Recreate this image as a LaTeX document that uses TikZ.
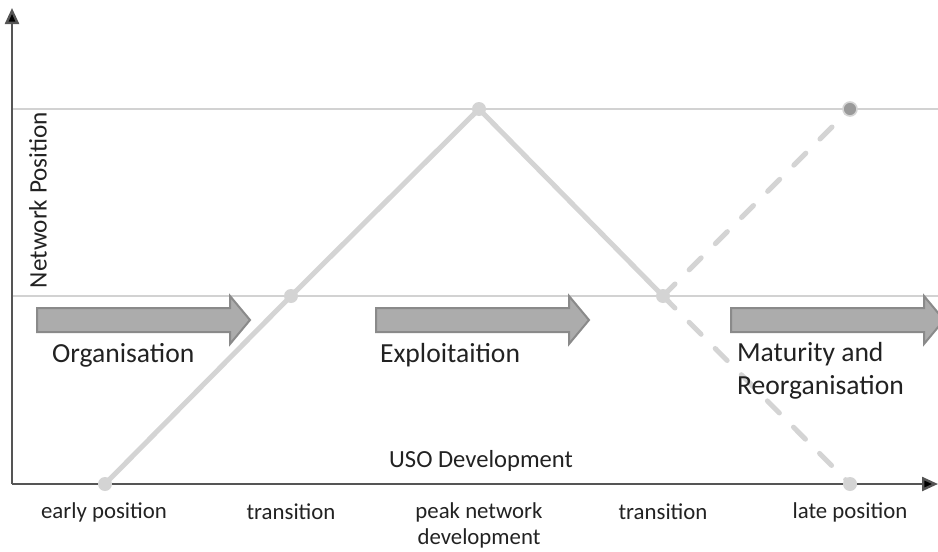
\documentclass[tikz,border=0pt]{standalone}
\usepackage{fontspec}
\setmainfont{Carlito}
\usetikzlibrary{arrows.meta}

\definecolor{lineGray}{HTML}{D4D4D4}
\definecolor{gridGray}{HTML}{D2D2D2}
\definecolor{axisGray}{HTML}{555555}
\definecolor{arrowFill}{HTML}{ACACAC}
\definecolor{arrowEdge}{HTML}{8A8A8A}
\definecolor{dotDark}{HTML}{9A9A9A}
\definecolor{textDark}{HTML}{222222}

\tikzset{
  stage/.style={line width=2.5pt, draw=lineGray, line cap=round, line join=round},
  dashstage/.style={stage, dash pattern=on 8.5pt off 10pt},
  dot/.style={circle, fill=lineGray, inner sep=0pt, minimum size=7pt},
  phase/.style={anchor=west, font=\fontsize{13.8}{16.5}\selectfont, text=textDark, align=left},
  tick/.style={font=\fontsize{11.4}{13}\selectfont, text=textDark, align=center},
  blockarrow/.pic={
    \draw[fill=arrowFill, draw=arrowEdge, line width=1pt]
      (0,-12) -- (193,-12) -- (193,-24) -- (213,0) -- (193,24) -- (193,12) -- (0,12) -- cycle;
  }
}

\begin{document}
\begin{tikzpicture}[x=0.5pt, y=-0.5pt]
  \useasboundingbox (0,0) rectangle (938,552);

  % grid lines
  \draw[gridGray, line width=1pt] (12,109) -- (938,109);
  \draw[gridGray, line width=1pt] (12,296) -- (938,296);

  % axes
  \coordinate (origin) at (12,484);
  \coordinate (xend) at (938,484);
  \coordinate (yend) at (12,8);
  \draw[axisGray, line width=1.2pt, -{Triangle[length=8pt,width=7pt,fill=black]}] (origin) -- (yend);
  \draw[axisGray, line width=1.2pt, -{Triangle[length=8pt,width=7pt,fill=black]}] (origin) -- (xend);

  % phase arrows
  \pic at (37,320) {blockarrow};
  \pic at (376,320) {blockarrow};
  \pic at (731,320) {blockarrow};

  % development path
  \coordinate (early) at (105,484);
  \coordinate (trans1) at (291,296);
  \coordinate (peak) at (479,109);
  \coordinate (trans2) at (663,296);
  \coordinate (lateLow) at (850,484);
  \coordinate (lateHigh) at (850,109);

  \draw[stage] (early) -- (trans1) -- (peak) -- (trans2);
  \draw[dashstage] (trans2) -- (lateHigh);
  \draw[dashstage] (trans2) -- (lateLow);

  \node[dot] (earlyDot) at (early) {};
  \node[dot] (trans1Dot) at (trans1) {};
  \node[dot] (peakDot) at (peak) {};
  \node[dot] (trans2Dot) at (trans2) {};
  \node[dot] (lateLowDot) at (lateLow) {};
  \node[dot, fill=dotDark, draw=lineGray, line width=0.8pt] (lateHighDot) at (lateHigh) {};

  % phase names
  \node[phase] (org) at (45,355) {Organisation};
  \node[phase] (expl) at (373,355) {Exploitaition};
  \node[phase] (matur) at (730,371) {Maturity and\\Reorganisation};

  % axis titles
  \node[font=\fontsize{12.3}{12}\selectfont, text=textDark] (xtitle) at (481,461) {USO Development};
  \node[font=\fontsize{12.6}{12}\selectfont, text=textDark, rotate=90] (ytitle) at (38,200) {Network Position};

  % stage labels
  \node[tick] (earlyLbl) at (104,512) {early position};
  \node[tick] (trans1Lbl) at (291,512) {transition};
  \node[tick] (peakLbl) at (479,525) {peak network\\development};
  \node[tick] (trans2Lbl) at (663,512) {transition};
  \node[tick] (lateLbl) at (850,512) {late position};
\end{tikzpicture}
\end{document}
